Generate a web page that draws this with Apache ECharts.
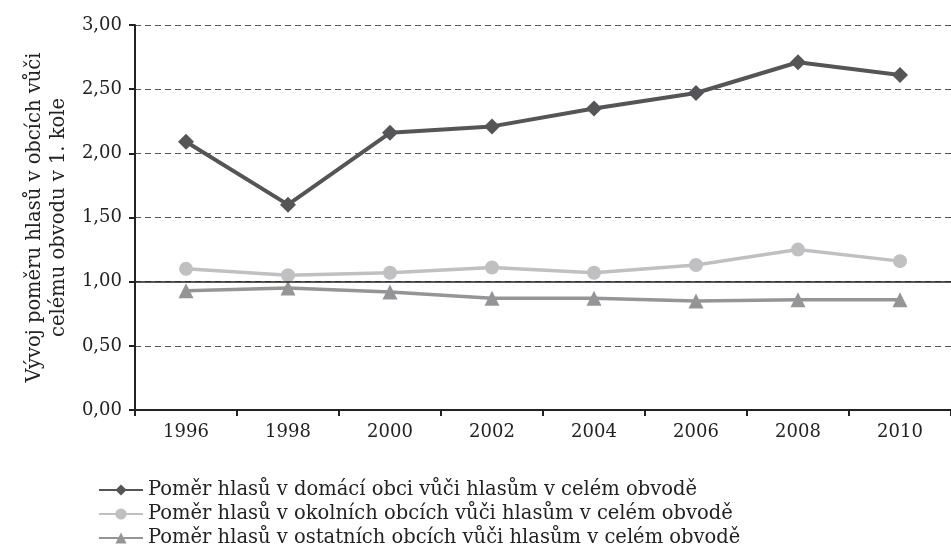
<!DOCTYPE html>
<html>
<head>
<meta charset="utf-8">
<script src="https://cdn.jsdelivr.net/npm/echarts@6/dist/echarts.min.js"></script>
<style>html,body{margin:0;padding:0;background:#fff;}#c{width:951px;height:556px;}</style>
</head>
<body>
<div id="c"></div>
<script>
const years = ['1996','1998','2000','2002','2004','2006','2008','2010'];
const domaci = [2.09, 1.60, 2.16, 2.21, 2.35, 2.47, 2.71, 2.61];
const okolni = [1.10, 1.05, 1.07, 1.11, 1.07, 1.13, 1.25, 1.16];
const ostatni = [0.93, 0.95, 0.92, 0.87, 0.87, 0.85, 0.86, 0.86];
const names = [
  'Poměr hlasů v domácí obci vůči hlasům v celém obvodě',
  'Poměr hlasů v okolních obcích vůči hlasům v celém obvodě',
  'Poměr hlasů v ostatních obcích vůči hlasům v celém obvodě'
];
const yTicks = [0, 0.5, 1, 1.5, 2, 2.5, 3];

const font = 'DejaVu Serif';
const chart = echarts.init(document.getElementById('c'));
chart.setOption({
  animation: false,
  textStyle: { fontFamily: font },
  grid: { left: 135, top: 25, width: 820, height: 385 },
  legend: {
    orient: 'vertical', left: 93, top: 475, itemGap: 4, itemWidth: 44, itemHeight: 14,
    textStyle: { fontFamily: font, fontSize: 19.5, color: '#222', lineHeight: 20 },
    data: names
  },
  xAxis: {
    type: 'category', data: years, boundaryGap: true,
    axisLine: { lineStyle: { color: '#222', width: 2 } },
    axisTick: { show: true, length: 6, lineStyle: { color: '#222', width: 2 } },
    axisLabel: { color: '#222', fontSize: 18, margin: 13, fontFamily: font },
    splitLine: { show: false }
  },
  yAxis: {
    type: 'value', min: 0, max: 3, interval: 0.5,
    name: 'Vývoj poměru hlasů v obcích vůči\ncelému obvodu v 1. kole',
    nameLocation: 'middle', nameRotate: 90, nameGap: 64,
    nameTextStyle: { fontFamily: font, fontSize: 19.5, color: '#222', lineHeight: 24 },
    axisLine: { show: true, lineStyle: { color: '#222', width: 2 } },
    axisTick: { show: true, length: 6, lineStyle: { color: '#222', width: 2 } },
    axisLabel: { color: '#222', fontSize: 18, margin: 13, fontFamily: font,
      formatter: v => v.toFixed(2).replace('.', ',') },
    splitLine: { show: true, lineStyle: { color: '#555', type: [6, 4], width: 1.2 } }
  },
  series: [
    { name: names[0], type: 'line', data: domaci, symbol: 'diamond', symbolSize: 16,
      lineStyle: { color: '#555558', width: 4 }, itemStyle: { color: '#555558' },
      markLine: { silent: true, symbol: 'none', label: { show: false },
        lineStyle: { color: '#222', type: 'solid', width: 1.5 },
        data: [{ yAxis: yTicks[2] }] },
      z: 5 },
    { name: names[1], type: 'line', data: okolni, symbol: 'circle', symbolSize: 14,
      lineStyle: { color: '#c0c0c3', width: 3.5 }, itemStyle: { color: '#c0c0c3' }, z: 4 },
    { name: names[2], type: 'line', data: ostatni, symbol: 'triangle', symbolSize: 15,
      lineStyle: { color: '#959598', width: 3.5 }, itemStyle: { color: '#959598' }, z: 4 }
  ]
});
</script>
</body>
</html>
